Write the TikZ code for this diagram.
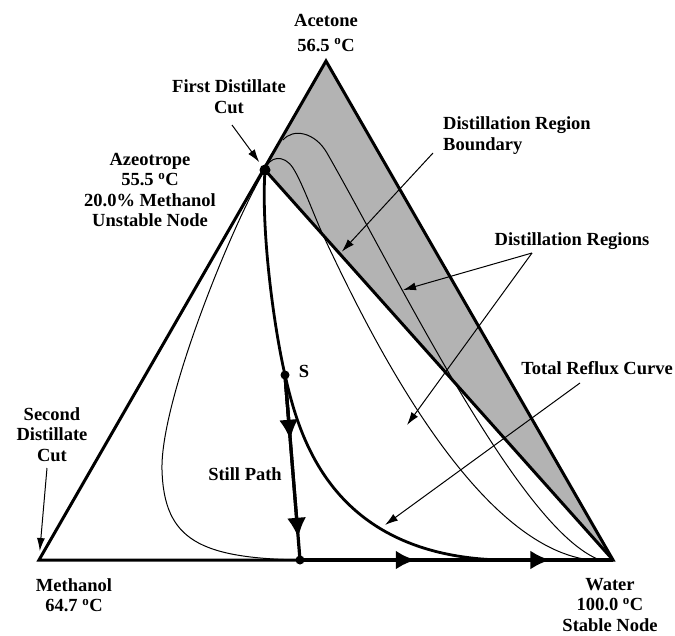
\documentclass[tikz,border=0pt]{standalone}
\usepackage{fontspec}
\setmainfont{Liberation Serif}
\usetikzlibrary{arrows.meta,calc}
\definecolor{regiongray}{RGB}{179,179,179}
\begin{document}
\begin{tikzpicture}[x=1pt,y=-1pt,
  lbl/.style={font=\bfseries\fontsize{18.5}{20.5}\selectfont, align=center, inner sep=0pt},
  sideedge/.style={line width=3pt, line join=miter},
  residue/.style={line width=1pt},
  reflux/.style={line width=2.8pt},
  callout/.style={line width=1pt, -{Latex[length=13pt,width=8pt]}},
  dotnode/.style={circle, fill=black, inner sep=0pt, minimum size=#1},
  bighead/.style={-{Latex[length=20pt,width=19pt]}},
]
\useasboundingbox (0,0) rectangle (675,635);
\coordinate (Ac) at (326,61);
\coordinate (Me) at (39,560);
\coordinate (Wa) at (613,560);
\coordinate (Az) at (265,170);
\coordinate (Sp) at (285,375);
\coordinate (Bt) at (300,560);

% region to the right of the boundary
\fill[regiongray] (Ac) -- (Wa) -- (Az) -- cycle;

% residue curves
\draw[residue] (283,140) .. controls (293,128) and (315,132) .. (327,153)
   .. controls (399,279) and (520,530) .. (600,560) -- (Wa);
\draw[residue] (Az) .. controls (269,156) and (284,154) .. (293,168)
   .. controls (302,182) and (313.4,213.9) .. (323,235)
   .. controls (363,320) and (470,545) .. (590,560) -- (Wa);
\draw[residue] (Az) .. controls (235,218) and (160,400) .. (162,470)
   .. controls (164,540) and (200,558) .. (Bt);

% total reflux curve
\draw[reflux] (Az) .. controls (261,230) and (273.5,325) .. (Sp)
   .. controls (298.8,435) and (330,555) .. (500,560) -- (540,560);

% boundary and triangle
\draw[sideedge] (Az) -- (Wa);
\draw[sideedge] (Ac) -- (Me) -- (Wa) -- cycle;

% still path with direction heads
\coordinate (sa1) at ($(Sp)!0.35!(Bt)$);
\coordinate (sa2) at ($(Sp)!0.88!(Bt)$);
\coordinate (ba1) at ($(Bt)!0.37!(Wa)$);
\coordinate (ba2) at ($(Bt)!0.80!(Wa)$);
\draw[line width=3.2pt] (Sp) -- (Bt);
\draw[line width=4.5pt] (Bt) -- (Wa);
\draw[line width=3.2pt, bighead] (Sp) -- (sa1);
\draw[line width=3.2pt, bighead] (Sp) -- (sa2);
\draw[line width=4.5pt, bighead] (Bt) -- (ba1);
\draw[line width=4.5pt, bighead] (Bt) -- (ba2);

% dots
\node[dotnode=11pt] (azdot) at (Az) {};
\node[dotnode=9pt] (sdot) at (Sp) {};
\node[dotnode=9pt] (bdot) at (Bt) {};

% labels
\node[lbl] (acetone) at (326,33) {Acetone\\[4pt]56.5 \textsuperscript{o}C};
\node[lbl] (firstcut) at (229,96.5) {First Distillate\\Cut};
\node[lbl] (azlbl) at (150,190) {Azeotrope\\55.5 \textsuperscript{o}C\\20.0\% Methanol\\Unstable Node};
\node[lbl, align=left, anchor=west] (bndlbl) at (443,135.5) {Distillation Region\\Boundary};
\node[lbl] (reglbl) at (572,241.5) {Distillation Regions};
\node[lbl] (reflbl) at (597,368.5) {Total Reflux Curve};
\node[lbl] (slbl) at (304,371) {S};
\node[lbl] (stilllbl) at (245,474.5) {Still Path};
\node[lbl] (seclbl) at (52,434.5) {Second\\Distillate\\Cut};
\node[lbl] (melbl) at (74,595) {Methanol\\64.7 \textsuperscript{o}C};
\node[lbl] (walbl) at (610,605) {Water\\100.0 \textsuperscript{o}C\\Stable Node};

% callout arrows
\coordinate (fcTail) at (232,125);
\coordinate (scTail) at (47,468);
\coordinate (bndTail) at (433,153);
\coordinate (bndTip) at ($(Az)!0.215!(Wa)$);
\coordinate (regTail) at (532,253);
\coordinate (regTipA) at (403,290);
\coordinate (regTipB) at (407,425);
\coordinate (refTail) at (580,383);
\coordinate (refTip) at (385,525);

\draw[callout, shorten >=4pt] (fcTail) -- (azdot);
\draw[callout, shorten >=9pt] (scTail) -- (Me);
\draw[callout, shorten >=3pt] (bndTail) -- (bndTip);
\draw[callout] (regTail) -- (regTipA);
\draw[callout] (regTail) -- (regTipB);
\draw[callout] (refTail) -- (refTip);
\end{tikzpicture}
\end{document}
